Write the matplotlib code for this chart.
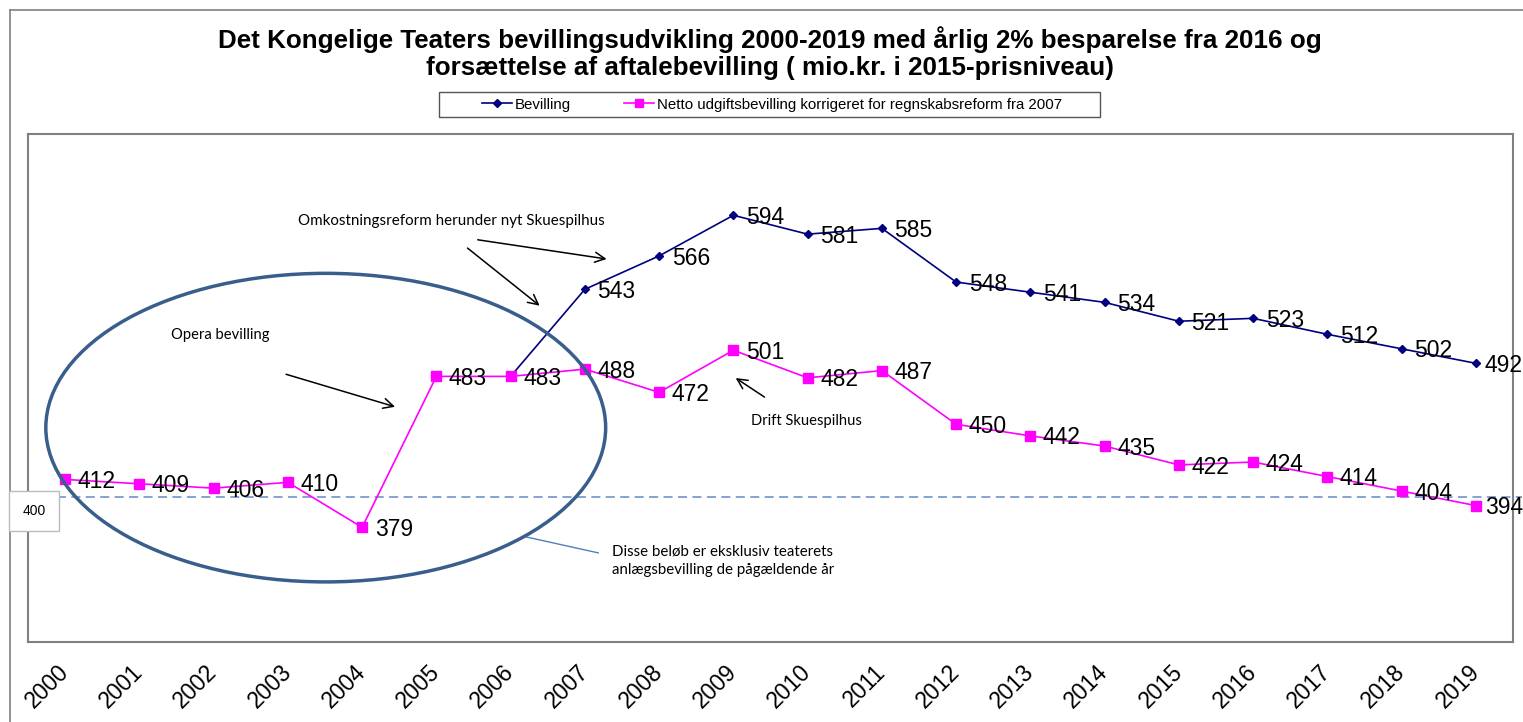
import numpy as np
import matplotlib.pyplot as plt
from matplotlib.patches import Ellipse, Rectangle
from matplotlib.lines import Line2D

years = [str(y) for y in range(2000, 2020)]
bevilling = [np.nan, np.nan, np.nan, np.nan, np.nan, np.nan, 483, 543, 566, 594,
             581, 585, 548, 541, 534, 521, 523, 512, 502, 492]
netto = [412, 409, 406, 410, 379, 483, 483, 488, 472, 501,
         482, 487, 450, 442, 435, 422, 424, 414, 404, 394]

title = ('Det Kongelige Teaters bevillingsudvikling 2000-2019 med årlig 2% besparelse fra 2016 og\n'
         'forsættelse af aftalebevilling ( mio.kr. i 2015-prisniveau)')

W, H = 1523, 722
fig = plt.figure(figsize=(W / 100, H / 100), dpi=100)
ax = fig.add_axes([28 / W, 1 - 642 / H, (1513 - 28) / W, (642 - 134) / H])

arial = ['Liberation Sans', 'DejaVu Sans']
cal = ['Lato', 'DejaVu Sans']

x = np.arange(len(years))
ax.plot(x, bevilling, color='#000080', lw=1.2, marker='D', ms=4.5, label='Bevilling', zorder=3)
ax.plot(x, netto, color='#FF00FF', lw=1.2, marker='s', ms=6.5,
        label='Netto udgiftsbevilling korrigeret for regnskabsreform fra 2007', zorder=4)

def label(i, v):
    # sidste punkt rykkes lidt ind, så teksten ikke skæres af
    dx = 6.5 if i == len(years) - 1 else 9
    ax.annotate(str(v), (i, v), xytext=(dx, -1.5), textcoords='offset points',
                va='center', ha='left', fontsize=16.5, family=arial, zorder=5)

for i, v in enumerate(bevilling):
    if i > 6:
        label(i, v)
for i, v in enumerate(netto):
    label(i, v)

ax.set_xlim(-0.5, 19.5)
ax.set_ylim(300, 650)
ax.set_xticks(x)
ax.set_xticklabels(years, rotation=45, ha='right', va='center', rotation_mode='anchor',
                   fontsize=16.5, family=arial)
ax.tick_params(axis='x', length=0, pad=19)
ax.set_yticks([])
for s in ax.spines.values():
    s.set_color('#808080')
    s.set_linewidth(1.5)

# 400-linje
ax.plot([-0.5, 19.62], [400, 400], ls=(0, (5, 3)), color='#7A9CCF', lw=1.3, clip_on=False, zorder=2)
fig.text(34 / W, 1 - 511 / H, '400', ha='center', va='center', fontsize=10, family=arial,
         bbox=dict(boxstyle='square,pad=0.95', fc='white', ec='#BBBBBB', lw=1))

# ellipse om operadelen
ax.add_patch(Ellipse((3.51, 447.7), 7.54, 212.6, fill=False, ec='#3A5E8C', lw=2.5, zorder=6))

# tekster og pile
arrow = dict(arrowstyle='->', color='black', lw=1.1, mutation_scale=18)
ax.text(3.14, 590, 'Omkostningsreform herunder nyt Skuespilhus', fontsize=10.9, family=cal, va='center')
ax.annotate('', xy=(7.33, 563.6), xytext=(5.52, 577.4), arrowprops=arrow)
ax.annotate('', xy=(6.42, 530.5), xytext=(5.39, 572.6), arrowprops=arrow)
ax.text(1.43, 511.2, 'Opera bevilling', fontsize=10.6, family=cal, va='center')
ax.annotate('', xy=(4.48, 461.5), xytext=(2.94, 485), arrowprops=arrow)
ax.text(9.24, 452.5, 'Drift Skuespilhus', fontsize=10.6, family=cal, va='center')
ax.annotate('', xy=(9.0, 482.9), xytext=(9.45, 467.7), arrowprops=arrow)
ax.plot([6.2, 7.18], [372.5, 361.4], color='#4F81BD', lw=1, zorder=2)
ax.text(7.37, 355.9, 'Disse beløb er eksklusiv teaterets\nanlægsbevilling de pågældende år',
        fontsize=10.8, family=cal, va='center', linespacing=1.35)

fig.text(770 / W, 1 - 53 / H, title, ha='center', va='center', fontsize=18.7,
         fontweight='bold', family=arial, linespacing=1.17)

# forklaring
fig.add_artist(Rectangle((439 / W, 1 - 117 / H), (1100 - 439) / W, 25 / H, transform=fig.transFigure,
                         fill=False, ec='#555555', lw=1))
fig.legend(loc='center', bbox_to_anchor=(772 / W, 1 - 104.5 / H), ncol=2,
           prop={'family': arial, 'size': 10.8}, frameon=False,
           handlelength=2.0, handletextpad=0.2, columnspacing=3.5, markerscale=0.9)

# ydre ramme
fig.add_artist(Line2D([10 / W, 10 / W], [0, 1 - 10 / H], color='#808080', lw=1.2))
fig.add_artist(Line2D([10 / W, 1], [1 - 10 / H, 1 - 10 / H], color='#808080', lw=1.2))

fig.savefig('out.png', dpi=100)
